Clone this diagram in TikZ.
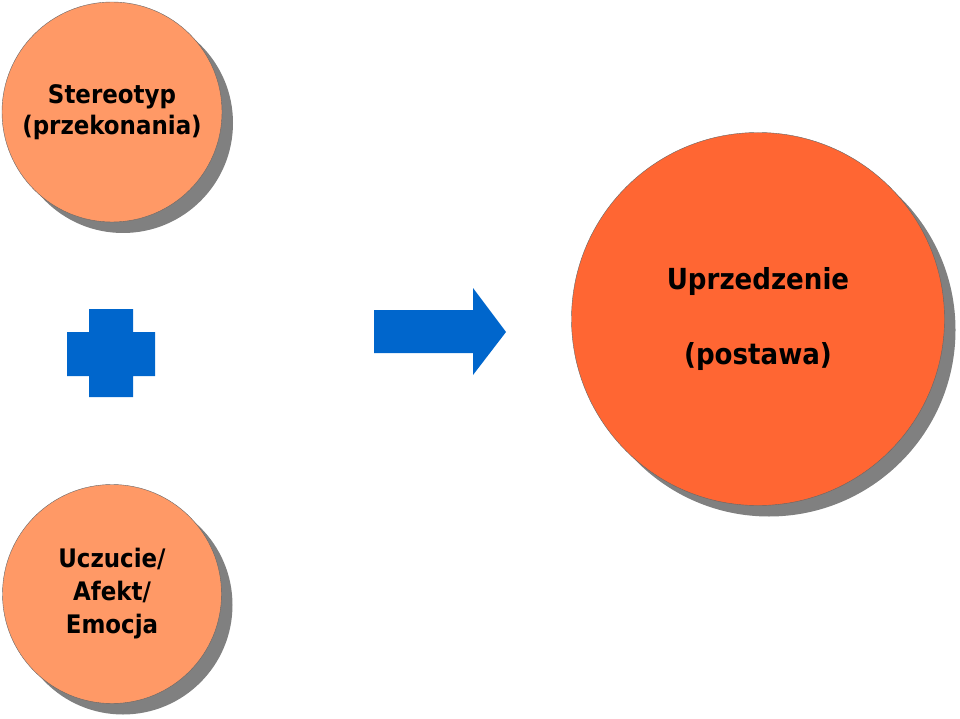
\documentclass[tikz,border=0pt]{standalone}
\usepackage{fontspec}
\setmainfont{DejaVu Sans Condensed}
\usetikzlibrary{shadows}
\definecolor{jasnypom}{HTML}{FF9966}
\definecolor{pomar}{HTML}{FF6633}
\definecolor{nieb}{HTML}{0066CC}
\begin{document}
\begin{tikzpicture}[x=1pt, y=-1pt,
    kolo/.style={circle, draw=black!60, line width=0.4pt, inner sep=0pt, align=center,
      font=\fontsize{25.5}{31}\selectfont\bfseries,
      drop shadow={shadow xshift=11pt, shadow yshift=-11pt, fill=black!50, opacity=1}}]
  \useasboundingbox (0, 0) rectangle (960, 719);

  \node[kolo, fill=jasnypom, minimum size=220pt] (stereotyp) at (112, 112) {Stereotyp\\(przekonania)};
  \node[kolo, fill=jasnypom, minimum size=219pt, font=\fontsize{25.5}{33}\selectfont\bfseries]
    (uczucie) at (112, 594) {Uczucie/\\Afekt/\\Emocja};
  \node[kolo, fill=pomar, minimum size=373pt, font=\fontsize{29}{34}\selectfont\bfseries]
    (uprzedzenie) at (758, 319) {Uprzedzenie\\[41pt](postawa)};

  \fill[nieb] (89, 309) -- (133, 309) -- (133, 332) -- (155, 332) -- (155, 376) -- (133, 376)
    -- (133, 397) -- (89, 397) -- (89, 376) -- (67, 376) -- (67, 332) -- (89, 332) -- cycle;
  \fill[nieb] (374, 310) -- (473, 310) -- (473, 288) -- (506, 332) -- (473, 375) -- (473, 353)
    -- (374, 353) -- cycle;
\end{tikzpicture}
\end{document}
